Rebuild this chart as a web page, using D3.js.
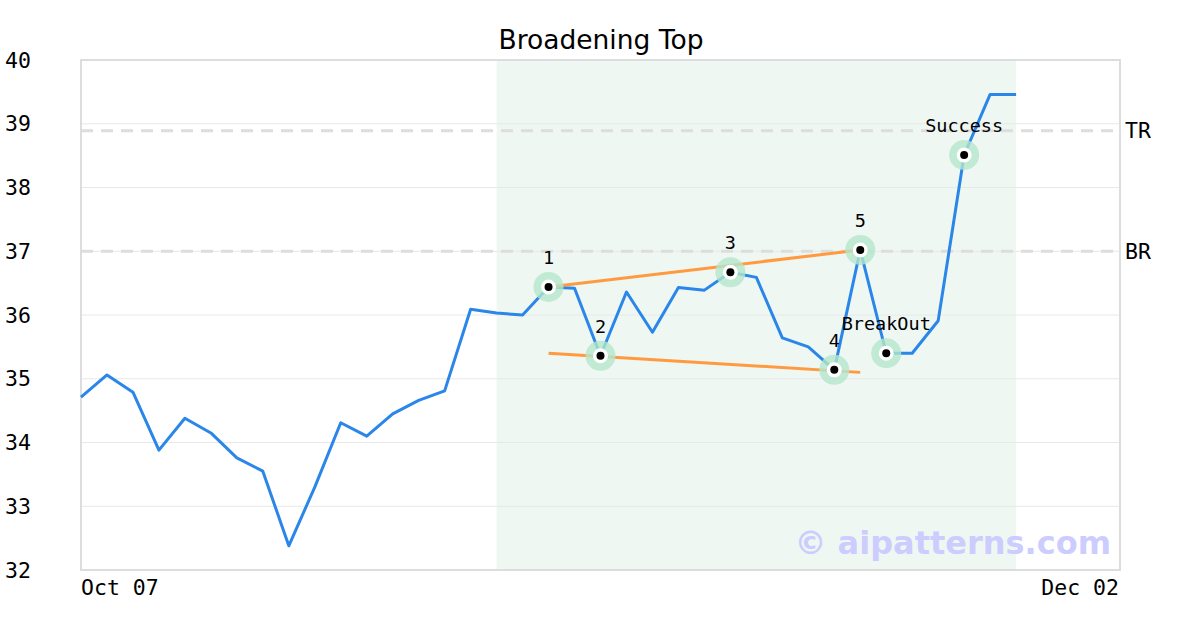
<!DOCTYPE html>
<html><head><meta charset="utf-8">
<script src="https://cdn.jsdelivr.net/npm/d3@7"></script>
<style>body{margin:0;background:#fff}</style>
</head><body>
<svg id="chart" width="1200" height="630"></svg>
<script>
const title = "Broadening Top";
const xTickLabels = ["Oct 07", "Dec 02"];
const yTicks = [32, 33, 34, 35, 36, 37, 38, 39, 40];
const prices = [34.71, 35.06, 34.79, 33.88, 34.38, 34.15, 33.76, 33.55, 32.38, 33.30,
  34.31, 34.10, 34.45, 34.66, 34.81, 36.09, 36.03, 36.00, 36.44, 36.42,
  35.36, 36.36, 35.73, 36.43, 36.39, 36.67, 36.59, 35.64, 35.50, 35.14,
  37.02, 35.40, 35.40, 35.91, 38.51, 39.46, 39.46];
const xDomainMax = 40;
const shadeRange = [16, 36];
const pivotIdx = [18, 20, 25, 29, 30, 31, 34];
const pivotLabels = ["1", "2", "3", "4", "5", "BreakOut", "Success"];
const upperLine = [[18, 36.44], [30, 37.02]];
const lowerLine = [[18, 35.40], [30, 35.10]];
const levels = [{name: "TR", value: 38.89}, {name: "BR", value: 37.0}];
const watermark = "© aipatterns.com";

const svg = d3.select("#chart");
const m = {l: 81, r: 1120, t: 60, b: 570};
const x = d3.scaleLinear().domain([0, xDomainMax]).range([m.l, m.r]);
const y = d3.scaleLinear().domain([32, 40]).range([m.b, m.t]);
const mono = "DejaVu Sans Mono, monospace";

// shading
svg.append("rect").attr("x", x(shadeRange[0])).attr("y", m.t)
  .attr("width", x(shadeRange[1]) - x(shadeRange[0])).attr("height", m.b - m.t)
  .attr("fill", "#eff7f3");

// grid
svg.append("g").selectAll("line").data(yTicks).join("line")
  .attr("x1", m.l).attr("x2", m.r).attr("y1", d => y(d)).attr("y2", d => y(d))
  .attr("stroke", "#e8e8e8").attr("stroke-width", 1);

// level dashed lines
svg.append("g").selectAll("line").data(levels).join("line")
  .attr("x1", m.l).attr("x2", m.r).attr("y1", d => y(d.value)).attr("y2", d => y(d.value))
  .attr("stroke", "#dddddd").attr("stroke-width", 3).attr("stroke-dasharray", "12,8");
svg.append("g").selectAll("text").data(levels).join("text")
  .attr("x", m.r + 5).attr("y", d => y(d.value)).attr("dy", "0.35em")
  .attr("font-family", mono).attr("font-size", 21.5).attr("fill", "#000").text(d => d.name);

// frame
svg.append("rect").attr("x", m.l).attr("y", m.t).attr("width", m.r - m.l).attr("height", m.b - m.t)
  .attr("fill", "none").attr("stroke", "#dddddd").attr("stroke-width", 2);

// y axis labels
svg.append("g").selectAll("text").data(yTicks).join("text")
  .attr("x", 5).attr("y", d => y(d)).attr("dy", "0.35em")
  .attr("font-family", mono).attr("font-size", 21.5).attr("fill", "#000").text(d => d);

// x labels
svg.append("text").attr("x", x(0)).attr("y", 595).attr("font-family", mono).attr("font-size", 21.5)
  .text(xTickLabels[0]);
svg.append("text").attr("x", x(xDomainMax) - 1).attr("y", 595).attr("text-anchor", "end")
  .attr("font-family", mono).attr("font-size", 21.5).text(xTickLabels[1]);

// title
svg.append("text").attr("x", 601).attr("y", 49).attr("text-anchor", "middle")
  .attr("font-family", "DejaVu Sans, sans-serif").attr("font-size", 26.5).text(title);

// watermark
svg.append("text").attr("x", 1111).attr("y", 554).attr("text-anchor", "end")
  .attr("font-family", "DejaVu Sans, sans-serif").attr("font-weight", "bold").attr("font-size", 32)
  .attr("fill", "#ccccff").text(watermark);

// price line
const line = d3.line().x((d, i) => x(i)).y(d => y(d));
svg.append("path").datum(prices).attr("d", line).attr("fill", "none")
  .attr("stroke", "#2a86e8").attr("stroke-width", 3).attr("stroke-linejoin", "round");

// trend lines
const tl = d3.line().x(d => x(d[0])).y(d => y(d[1]));
[upperLine, lowerLine].forEach(l => svg.append("path").datum(l).attr("d", tl)
  .attr("stroke", "#ff9a40").attr("stroke-width", 3).attr("fill", "none"));

// markers
const pg = svg.append("g").selectAll("g").data(pivotIdx).join("g")
  .attr("transform", d => `translate(${x(d)},${y(prices[d])})`);
pg.append("circle").attr("r", 15).attr("fill", "#b4e6cc").attr("opacity", 0.8);
pg.append("circle").attr("r", 7.5).attr("fill", "#fff");
pg.append("circle").attr("r", 4).attr("fill", "#000");
pg.append("text").attr("y", -23).attr("text-anchor", "middle")
  .attr("font-family", mono).attr("font-size", 18.5).attr("fill", "#000")
  .text((d, i) => pivotLabels[i]);
</script>
</body></html>
